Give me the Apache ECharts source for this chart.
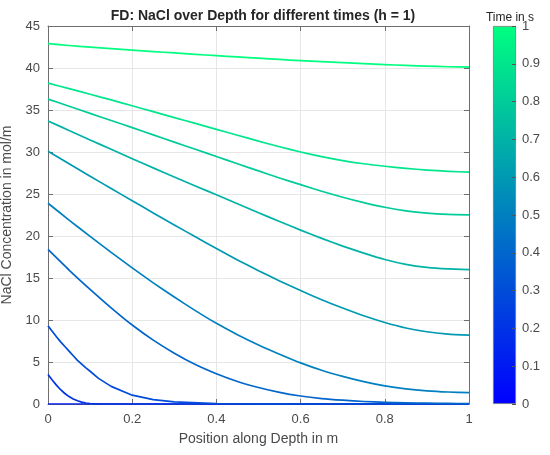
<!DOCTYPE html>
<html>
<head>
<meta charset="utf-8">
<script src="https://cdn.jsdelivr.net/npm/echarts@6/dist/echarts.min.js"></script>
<style>html,body{margin:0;padding:0;background:#fff}#c{width:550px;height:455px}</style>
</head>
<body>
<div id="c"></div>
<script>
// ---- data ----
// regular depth grid (m) for the slowly varying profiles
var positions = [0, 0.05, 0.1, 0.15, 0.2, 0.25, 0.3, 0.35, 0.4, 0.45, 0.5, 0.55, 0.6, 0.65, 0.7, 0.75, 0.8, 0.85, 0.9, 0.95, 1.0];
// finer depth grid near the surface for the steep early profiles
var positionsFine = [0, 0.01, 0.02, 0.03, 0.04, 0.05, 0.06, 0.07, 0.08, 0.09, 0.1, 0.12, 0.15, 0.2, 0.25, 0.3, 0.4, 0.5, 1.0];

var times = [0.1, 0.2, 0.3, 0.4, 0.5, 0.6, 0.7, 0.8, 0.9, 1.0];

var conc_t01 = [0, 0, 0, 0, 0, 0, 0, 0, 0, 0, 0, 0, 0, 0, 0, 0, 0, 0, 0, 0, 0];
var conc_t02 = [3.5, 2.85, 2.25, 1.7, 1.25, 0.88, 0.6, 0.38, 0.22, 0.12, 0.06, 0.02, 0, 0, 0, 0, 0, 0, 0];          // on positionsFine
var conc_t03 = [9.3, 8.65, 8.0, 7.4, 6.85, 6.3, 5.75, 5.2, 4.75, 4.3, 3.9, 3.05, 2.1, 1.05, 0.52, 0.26, 0.06, 0.01, 0]; // on positionsFine
var conc_t04 = [18.4, 15.95, 13.65, 11.45, 9.4, 7.6, 6.05, 4.7, 3.6, 2.68, 1.96, 1.38, 0.95, 0.65, 0.45, 0.3, 0.2, 0.14, 0.1, 0.07, 0.05];
var conc_t05 = [23.9, 21.9, 19.95, 18.05, 16.2, 14.42, 12.73, 11.12, 9.6, 8.25, 7.03, 5.93, 4.9, 4.02, 3.29, 2.66, 2.15, 1.8, 1.57, 1.43, 1.35];
var conc_t06 = [30.1, 28.6, 27.12, 25.65, 24.2, 22.75, 21.32, 19.9, 18.5, 17.15, 15.87, 14.65, 13.5, 12.42, 11.42, 10.5, 9.7, 9.05, 8.6, 8.33, 8.2];
var conc_t07 = [33.7, 32.57, 31.44, 30.32, 29.2, 28.11, 27.03, 25.96, 24.9, 23.83, 22.77, 21.73, 20.7, 19.72, 18.8, 17.96, 17.2, 16.62, 16.26, 16.08, 16.0];
var conc_t08 = [36.3, 35.45, 34.6, 33.75, 32.9, 32.04, 31.18, 30.32, 29.46, 28.6, 27.75, 26.91, 26.11, 25.33, 24.61, 23.97, 23.42, 23.0, 22.72, 22.57, 22.52];
var conc_t09 = [38.2, 37.55, 36.88, 36.2, 35.5, 34.8, 34.1, 33.4, 32.7, 32.0, 31.3, 30.62, 30.0, 29.45, 28.98, 28.6, 28.3, 28.05, 27.85, 27.7, 27.6];
var conc_t10 = [42.9, 42.68, 42.48, 42.3, 42.13, 41.96, 41.79, 41.63, 41.47, 41.32, 41.17, 41.02, 40.88, 40.76, 40.64, 40.52, 40.41, 40.31, 40.22, 40.15, 40.1];

var concentrations = [conc_t01, conc_t02, conc_t03, conc_t04, conc_t05, conc_t06, conc_t07, conc_t08, conc_t09, conc_t10];
var depthGrids = [positions, positionsFine, positionsFine, positions, positions, positions, positions, positions, positions, positions];

var xTicks = [0, 0.2, 0.4, 0.6, 0.8, 1];
var yTicks = [0, 5, 10, 15, 20, 25, 30, 35, 40, 45];
var cbTicks = [0, 0.1, 0.2, 0.3, 0.4, 0.5, 0.6, 0.7, 0.8, 0.9, 1];
var colorbarRange = [1];
var cmapLow = [0, 0, 255];   // MATLAB "winter" colormap ends
var cmapHigh = [0, 255, 128];

function cmap(t) {
  var c = cmapLow.map(function (v, i) { return Math.round(v + (cmapHigh[i] - v) * t); });
  return 'rgb(' + c.join(',') + ')';
}

var FONT = '"Liberation Sans", Arial, sans-serif';
var AX = '#6e6e6e';
var TXT = '#4a4a4a';

var series = concentrations.map(function (vals, k) {
  var xs = depthGrids[k];
  return {
    type: 'line',
    xAxisIndex: 0, yAxisIndex: 0,
    data: xs.map(function (x, i) { return [x, vals[i]]; }),
    smooth: xs === positions ? 0.2 : false,
    showSymbol: false,
    symbol: 'none',
    lineStyle: { color: cmap(times[k]), width: 1.7, join: 'round' },
    z: 2 + k,
    silent: true
  };
});

series.push({
  type: 'bar',
  xAxisIndex: 2, yAxisIndex: 2,
  data: colorbarRange,
  barWidth: '100%',
  silent: true,
  itemStyle: {
    color: new echarts.graphic.LinearGradient(0, 0, 0, 1, [
      { offset: 0, color: cmap(1) },
      { offset: 1, color: cmap(0) }
    ]),
    borderColor: '#777', borderWidth: 0.8
  }
});

var tickMin = function (arr) { return arr[0]; };

var option = {
  animation: false,
  backgroundColor: '#fff',
  title: [
    {
      text: 'FD: NaCl over Depth for different times (h = 1)',
      left: 258, top: 4, textAlign: 'center',
      textStyle: { fontFamily: FONT, fontSize: 14, fontWeight: 'bold', color: '#262626' }
    },
    {
      text: 'Time in s',
      left: 505, top: 7, textAlign: 'center',
      textStyle: { fontFamily: FONT, fontSize: 12, fontWeight: 'normal', color: '#262626' }
    }
  ],
  grid: [
    { left: 48, right: 81, top: 26, bottom: 51, containLabel: false, outerBoundsMode: 'none' },
    { left: 493, width: 23, top: 26, bottom: 51, containLabel: false, outerBoundsMode: 'none' }
  ],
  xAxis: [
    {
      type: 'value', gridIndex: 0, position: 'bottom',
      min: tickMin(xTicks), max: xTicks[xTicks.length - 1], interval: 0.2,
      name: 'Position along Depth in m', nameLocation: 'middle', nameGap: 28,
      nameTextStyle: { fontFamily: FONT, fontSize: 14, color: TXT },
      axisLine: { show: true, onZero: false, lineStyle: { color: AX, width: 1 } },
      axisTick: { show: true, inside: true, length: 5, lineStyle: { color: AX } },
      axisLabel: { fontFamily: FONT, fontSize: 13, color: TXT, margin: 9 },
      splitLine: { show: true, lineStyle: { color: '#e6e6e6', width: 1 } }
    },
    {
      type: 'value', gridIndex: 0, position: 'top',
      min: tickMin(xTicks), max: xTicks[xTicks.length - 1], interval: 0.2,
      axisLine: { show: true, onZero: false, lineStyle: { color: AX, width: 1 } },
      axisTick: { show: true, inside: true, length: 5, lineStyle: { color: AX } },
      axisLabel: { show: false },
      splitLine: { show: false }
    },
    {
      type: 'category', gridIndex: 1, data: ['cb'],
      axisLine: { show: false }, axisTick: { show: false }, axisLabel: { show: false },
      splitLine: { show: false }
    }
  ],
  yAxis: [
    {
      type: 'value', gridIndex: 0, position: 'left',
      min: tickMin(yTicks), max: yTicks[yTicks.length - 1], interval: 5,
      name: 'NaCl Concentration in mol/m', nameLocation: 'middle', nameGap: 28,
      nameTextStyle: { fontFamily: FONT, fontSize: 14, color: TXT },
      axisLine: { show: true, onZero: false, lineStyle: { color: AX, width: 1 } },
      axisTick: { show: true, inside: true, length: 5, lineStyle: { color: AX } },
      axisLabel: { fontFamily: FONT, fontSize: 13, color: TXT, margin: 8 },
      splitLine: { show: true, lineStyle: { color: '#e6e6e6', width: 1 } }
    },
    {
      type: 'value', gridIndex: 0, position: 'right',
      min: tickMin(yTicks), max: yTicks[yTicks.length - 1], interval: 5,
      axisLine: { show: true, onZero: false, lineStyle: { color: AX, width: 1 } },
      axisTick: { show: true, inside: true, length: 5, lineStyle: { color: AX } },
      axisLabel: { show: false },
      splitLine: { show: false }
    },
    {
      type: 'value', gridIndex: 1, position: 'right',
      min: tickMin(cbTicks), max: cbTicks[cbTicks.length - 1], interval: 0.1,
      axisLine: { show: false },
      axisTick: { show: true, inside: true, length: 4, lineStyle: { color: '#555' } },
      axisLabel: {
        fontFamily: FONT, fontSize: 13, color: TXT, margin: 6,
        formatter: function (v) { return String(Math.round(v * 10) / 10); }
      },
      splitLine: { show: false },
      z: 10
    }
  ],
  series: series
};

var chart = echarts.init(document.getElementById('c'), null, { renderer: 'canvas' });
chart.setOption(option);
</script>
</body>
</html>
